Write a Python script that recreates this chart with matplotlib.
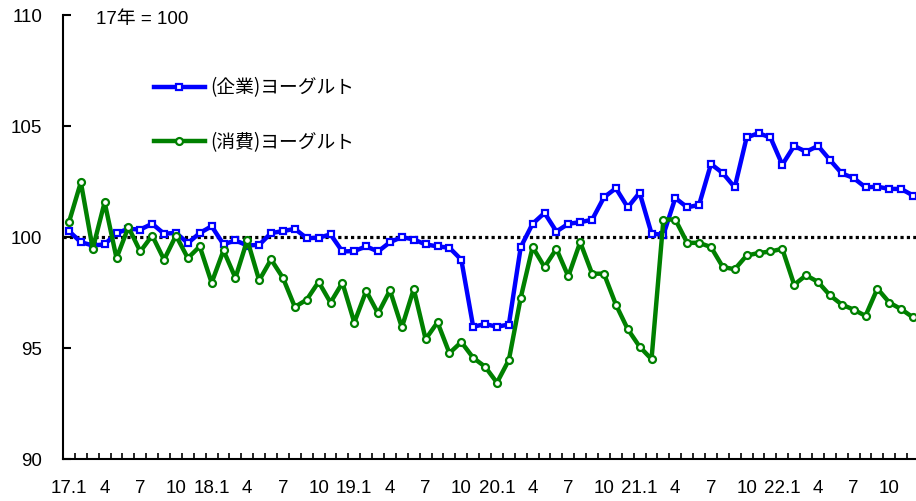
import matplotlib
matplotlib.use('Agg')
import matplotlib.pyplot as plt
import numpy as np

plt.rcParams['font.family'] = ['Liberation Sans', 'Noto Sans CJK JP']

# monthly index, 2017.1 - 2022.12 (17年 = 100)
tick_labels = ['17.1', '4', '7', '10', '18.1', '4', '7', '10', '19.1', '4', '7', '10',
               '20.1', '4', '7', '10', '21.1', '4', '7', '10', '22.1', '4', '7', '10']

kigyo = [100.27, 99.77, 99.62, 99.67, 100.18, 100.37, 100.34, 100.6, 100.15, 100.19, 99.73, 100.18,
         100.49, 99.67, 99.85, 99.62, 99.65, 100.18, 100.27, 100.37, 99.95, 99.97, 100.12, 99.35,
         99.37, 99.58, 99.35, 99.77, 100.0, 99.89, 99.67, 99.58, 99.52, 98.98, 95.96, 96.08,
         95.96, 96.06, 99.55, 100.6, 101.09, 100.25, 100.6, 100.67, 100.78, 101.79, 102.2, 101.34,
         102.0, 100.16, 100.1, 101.76, 101.34, 101.45, 103.29, 102.88, 102.24, 104.49, 104.68, 104.49,
         103.26, 104.11, 103.84, 104.11, 103.48, 102.87, 102.66, 102.24, 102.27, 102.17, 102.17, 101.87]

shohi = [100.67, 102.47, 99.47, 101.57, 99.05, 100.45, 99.35, 100.07, 98.98, 100.07, 99.05, 99.58,
         97.94, 99.40, 98.16, 99.87, 98.05, 98.99, 98.16, 96.85, 97.18, 97.98, 97.05, 97.94,
         96.15, 97.57, 96.56, 97.6, 95.93, 97.66, 95.4, 96.16, 94.77, 95.27, 94.56, 94.16,
         93.44, 94.46, 97.27, 99.55, 98.65, 99.47, 98.23, 99.77, 98.35, 98.35, 96.96, 95.85,
         95.06, 94.5, 100.79, 100.79, 99.74, 99.74, 99.55, 98.65, 98.55, 99.17, 99.28, 99.35,
         99.47, 97.85, 98.28, 97.98, 97.38, 96.96, 96.73, 96.45, 97.68, 97.05, 96.75, 96.38]

x = np.arange(len(kigyo))

fig = plt.figure(figsize=(9.16, 5.01), dpi=100)
ax = fig.add_axes([0.0688, 0.0838, 0.9345, 0.886])

ax.axhline(100, color='black', lw=2.3, dashes=(1, 1), zorder=1)

ax.plot(x, kigyo, color='#0000ff', lw=3.2, marker='s', ms=5, mfc='white',
        mec='#0000ff', mew=1.6, label='(企業)ヨーグルト', zorder=3)
ax.plot(x, shohi, color='#008000', lw=3.2, marker='o', ms=5, mfc='white',
        mec='#008000', mew=1.6, label='(消費)ヨーグルト', zorder=4)

ax.set_xlim(-0.5, len(x) - 0.5)
ax.set_ylim(90, 110)
ax.set_yticks([90, 95, 100, 105, 110])
ax.tick_params(axis='y', direction='in', length=6, width=1.5, pad=15, labelsize=13.5)

ax.set_xticks(np.arange(0, len(x), 3))
ax.set_xticklabels(tick_labels)
ax.set_xticks(np.arange(-0.5, len(x), 1), minor=True)
ax.tick_params(axis='x', which='major', length=0, pad=15, labelsize=13.5)
ax.tick_params(axis='x', which='minor', direction='in', length=4, width=1.2)

for s in ['top', 'right']:
    ax.spines[s].set_visible(False)
ax.spines['left'].set_linewidth(1.5)
ax.spines['bottom'].set_linewidth(1.5)

ax.text(2.3, 109.8, '17年 = 100', fontsize=13.5, va='center')

ax.legend(loc='upper left', bbox_to_anchor=(0.086, 0.898), frameon=False,
          prop={'family': ['Noto Sans CJK JP'], 'size': 13.5},
          handlelength=2.77, labelspacing=1.79, handletextpad=0.27)

fig.savefig('out.png', dpi=100)
